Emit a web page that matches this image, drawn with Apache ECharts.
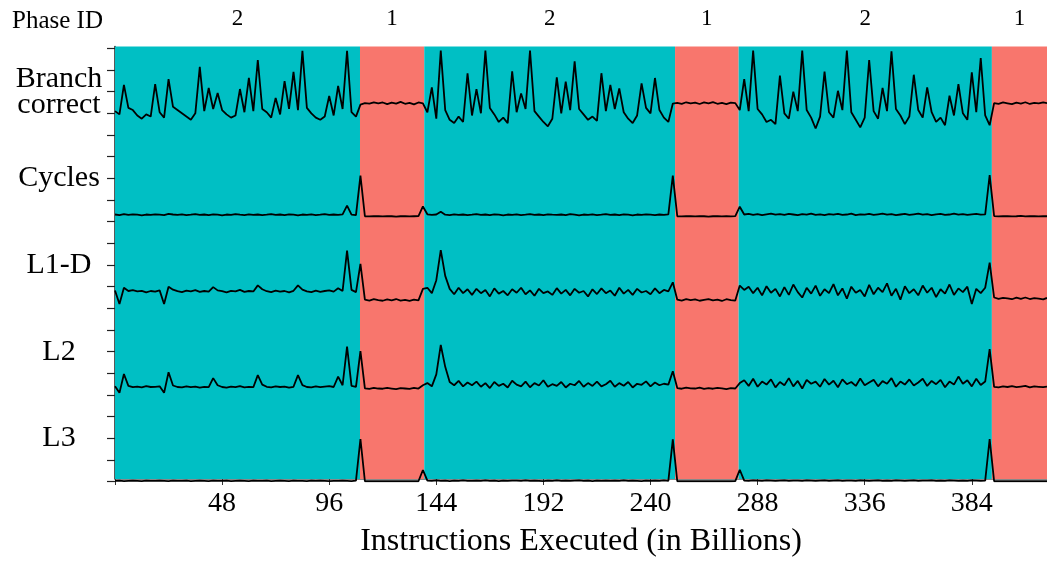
<!DOCTYPE html>
<html>
<head>
<meta charset="utf-8">
<script src="https://cdn.jsdelivr.net/npm/echarts@6/dist/echarts.min.js"></script>
<style>
html,body{margin:0;padding:0;background:#fff;}
#chart{width:1047px;height:563px;}
</style>
</head>
<body>
<div id="chart"></div>
<script>
// Sample positions (billions of instructions)
const instr = [
0,2,4,6,8,10,12,14,16,18,
20,22,24,26,28,30,32,34,36,38,
40,42,44,46,48,50,52,54,56,58,
60,62,64,66,68,70,72,74,76,78,
80,82,84,86,88,90,92,94,96,98,
100,102,104,106,108,110,112,114,116,118,
120,122,124,126,128,130,132,134,136,138,
140,142,144,146,148,150,152,154,156,158,
160,162,164,166,168,170,172,174,176,178,
180,182,184,186,188,190,192,194,196,198,
200,202,204,206,208,210,212,214,216,218,
220,222,224,226,228,230,232,234,236,238,
240,242,244,246,248,250,252,254,256,258,
260,262,264,266,268,270,272,274,276,278,
280,282,284,286,288,290,292,294,296,298,
300,302,304,306,308,310,312,314,316,318,
320,322,324,326,328,330,332,334,336,338,
340,342,344,346,348,350,352,354,356,358,
360,362,364,366,368,370,372,374,376,378,
380,382,384,386,388,390,392,394,396,398,
400,402,404,406,408,410,412,414,416,417.7
];

// Normalised metric values (each within its own 0..4 lane)
const branchCorrect = [
1.10,0.95,2.31,1.25,1.15,0.90,0.75,0.95,0.85,2.35,
1.05,0.80,2.58,1.30,1.15,1.00,0.85,0.70,1.00,3.14,
1.10,2.17,1.20,1.94,1.15,0.95,0.80,0.90,2.12,1.05,
2.63,1.10,3.46,1.20,1.05,0.80,1.71,0.95,2.49,1.20,
2.91,1.15,3.88,1.25,1.00,0.80,0.70,0.85,1.80,0.90,
2.26,1.20,3.88,1.05,0.85,1.40,1.47,1.45,1.50,1.46,
1.50,1.42,1.49,1.45,1.53,1.44,1.48,1.41,1.50,1.46,
1.05,2.20,0.75,3.89,1.15,0.70,0.55,0.85,0.60,2.85,
0.90,2.12,1.00,3.89,1.25,0.95,0.60,0.80,0.55,2.94,
1.05,1.92,1.20,3.89,1.10,0.85,0.60,0.40,0.75,2.66,
1.00,2.46,1.15,3.40,1.20,0.95,0.70,0.85,0.65,2.85,
1.10,2.31,1.20,2.15,1.05,0.75,0.55,0.90,2.38,1.25,
1.00,2.63,1.15,0.80,0.60,1.45,1.48,1.44,1.51,1.46,
1.49,1.43,1.50,1.46,1.52,1.44,1.48,1.42,1.49,1.47,
1.15,2.58,1.10,3.89,1.20,0.95,0.60,0.70,0.50,2.74,
1.00,0.75,2.00,1.10,3.89,1.15,0.80,0.30,0.85,2.92,
1.05,0.80,2.04,1.15,3.89,1.05,0.70,0.35,0.80,3.46,
1.10,0.75,2.17,1.10,3.86,1.20,0.90,0.50,0.85,2.78,
1.15,0.80,2.20,1.05,0.60,0.80,0.45,1.81,0.90,2.35,
1.00,0.70,2.89,1.05,3.55,0.90,0.45,1.47,1.44,1.50,
1.46,1.42,1.49,1.45,1.51,1.43,1.48,1.46,1.50,1.47
];
const cycles = [
0.33,0.30,0.35,0.31,0.34,0.32,0.29,0.33,0.31,0.34,
0.32,0.30,0.36,0.33,0.31,0.34,0.30,0.32,0.35,0.31,
0.33,0.30,0.34,0.32,0.29,0.33,0.31,0.35,0.32,0.30,
0.34,0.31,0.33,0.30,0.32,0.35,0.31,0.33,0.30,0.34,
0.32,0.29,0.33,0.31,0.34,0.30,0.32,0.35,0.31,0.33,
0.31,0.34,0.74,0.32,0.30,2.12,0.25,0.24,0.26,0.25,
0.24,0.26,0.25,0.23,0.25,0.26,0.24,0.25,0.26,0.70,
0.34,0.31,0.33,0.46,0.32,0.30,0.34,0.31,0.33,0.30,
0.32,0.35,0.31,0.33,0.30,0.34,0.32,0.29,0.33,0.31,
0.34,0.30,0.32,0.35,0.31,0.33,0.30,0.34,0.32,0.31,
0.33,0.30,0.35,0.32,0.29,0.33,0.31,0.34,0.30,0.32,
0.35,0.31,0.33,0.30,0.34,0.32,0.29,0.33,0.31,0.34,
0.32,0.30,0.33,0.31,0.34,2.12,0.25,0.24,0.26,0.25,
0.24,0.26,0.25,0.23,0.25,0.26,0.24,0.25,0.24,0.26,
0.69,0.33,0.36,0.31,0.35,0.30,0.34,0.37,0.32,0.35,
0.31,0.36,0.33,0.30,0.35,0.32,0.37,0.31,0.34,0.30,
0.35,0.32,0.36,0.31,0.33,0.37,0.30,0.34,0.32,0.36,
0.31,0.34,0.37,0.32,0.35,0.30,0.33,0.36,0.31,0.34,
0.37,0.32,0.35,0.30,0.34,0.36,0.31,0.33,0.37,0.32,
0.35,0.31,0.34,0.36,0.32,0.34,2.15,0.26,0.24,0.25,
0.26,0.24,0.25,0.27,0.24,0.26,0.25,0.24,0.26,0.25
];
const l1d = [
0.82,0.20,0.95,0.80,0.84,0.78,0.81,0.74,0.80,0.77,
0.83,0.20,1.00,0.86,0.79,0.75,0.82,0.78,0.84,0.76,
0.80,0.77,0.98,0.83,0.79,0.74,0.81,0.78,0.85,0.76,
0.80,0.78,1.06,0.88,0.79,0.75,0.82,0.77,0.80,0.74,
0.81,1.06,0.86,0.78,0.75,0.82,0.76,0.80,0.83,0.77,
0.93,0.80,2.66,0.85,0.75,2.05,0.40,0.36,0.42,0.38,
0.35,0.41,0.37,0.43,0.36,0.39,0.34,0.40,0.37,0.90,
0.95,0.70,1.30,2.69,1.50,0.90,0.65,0.95,0.70,0.88,
0.62,0.90,0.70,0.85,0.55,0.92,0.68,0.80,0.60,0.88,
0.72,0.95,0.65,0.83,0.58,0.90,0.70,0.78,0.62,0.93,
0.68,0.85,0.60,0.90,0.72,0.80,0.55,0.88,0.66,0.92,
0.70,0.82,0.58,0.95,0.68,0.85,0.62,0.90,0.73,0.80,
0.65,0.92,0.70,0.85,0.78,1.20,0.40,0.36,0.42,0.38,
0.41,0.35,0.39,0.43,0.37,0.40,0.34,0.42,0.38,0.36,
1.05,0.85,1.00,0.70,0.95,0.60,1.02,0.72,0.90,0.55,
0.98,0.62,1.10,0.75,0.50,0.95,0.68,1.05,0.58,0.88,
0.70,1.12,0.60,0.92,0.45,1.00,0.72,0.85,0.55,1.08,
0.65,0.95,0.75,1.15,0.58,0.90,0.40,1.02,0.70,0.88,
0.60,1.05,0.72,0.95,0.52,0.88,0.68,1.10,0.62,0.92,
0.75,1.00,0.20,0.90,0.70,0.95,2.11,0.50,0.44,0.48,
0.46,0.42,0.49,0.44,0.50,0.43,0.47,0.45,0.41,0.48
];
const l2 = [
0.40,0.10,0.97,0.42,0.36,0.39,0.35,0.41,0.37,0.38,
0.40,0.10,1.05,0.44,0.37,0.35,0.40,0.36,0.39,0.34,
0.38,0.36,0.78,0.45,0.37,0.34,0.39,0.36,0.41,0.35,
0.38,0.36,0.92,0.48,0.38,0.35,0.40,0.37,0.39,0.34,
0.38,0.92,0.46,0.37,0.35,0.40,0.36,0.39,0.41,0.37,
0.85,0.45,2.23,0.42,0.38,2.03,0.31,0.28,0.33,0.30,
0.29,0.33,0.30,0.27,0.32,0.30,0.28,0.33,0.30,0.45,
0.55,0.40,0.95,2.31,1.30,0.60,0.45,0.65,0.40,0.58,
0.45,0.62,0.38,0.55,0.32,0.60,0.42,0.52,0.35,0.66,
0.48,0.40,0.62,0.36,0.55,0.44,0.68,0.38,0.50,0.42,
0.60,0.35,0.52,0.45,0.65,0.38,0.55,0.42,0.62,0.40,
0.50,0.66,0.38,0.55,0.43,0.60,0.35,0.52,0.47,0.63,
0.40,0.58,0.45,0.52,0.48,1.10,0.32,0.29,0.34,0.31,
0.30,0.34,0.28,0.32,0.29,0.33,0.31,0.27,0.32,0.30,
0.55,0.68,0.42,0.75,0.38,0.62,0.48,0.72,0.35,0.60,
0.45,0.78,0.40,0.65,0.30,0.70,0.52,0.62,0.38,0.74,
0.48,0.66,0.36,0.72,0.50,0.60,0.42,0.76,0.45,0.58,
0.70,0.40,0.64,0.52,0.78,0.38,0.62,0.48,0.72,0.44,
0.58,0.75,0.42,0.65,0.50,0.70,0.36,0.62,0.48,0.85,
0.52,0.68,0.40,0.75,0.46,0.62,2.12,0.38,0.35,0.40,
0.37,0.41,0.36,0.39,0.42,0.35,0.40,0.38,0.36,0.39
];
const l3 = [
0.04,0.05,0.03,0.04,0.05,0.04,0.03,0.05,0.04,0.04,
0.05,0.04,0.03,0.05,0.04,0.04,0.05,0.03,0.04,0.05,
0.04,0.03,0.05,0.04,0.04,0.05,0.03,0.04,0.05,0.04,
0.03,0.05,0.04,0.04,0.05,0.03,0.04,0.05,0.04,0.03,
0.05,0.04,0.04,0.03,0.05,0.04,0.05,0.04,0.03,0.04,
0.04,0.05,0.04,0.03,0.05,1.97,0.02,0.02,0.03,0.02,
0.02,0.03,0.02,0.02,0.03,0.02,0.02,0.03,0.02,0.54,
0.05,0.04,0.06,0.04,0.05,0.03,0.05,0.04,0.06,0.04,
0.04,0.05,0.04,0.06,0.04,0.05,0.03,0.05,0.04,0.05,
0.05,0.04,0.06,0.04,0.05,0.04,0.03,0.05,0.04,0.06,
0.04,0.05,0.04,0.05,0.06,0.04,0.05,0.03,0.05,0.04,
0.05,0.04,0.05,0.04,0.06,0.04,0.05,0.04,0.03,0.05,
0.04,0.05,0.04,0.06,0.04,1.95,0.02,0.03,0.02,0.02,
0.03,0.02,0.02,0.03,0.02,0.02,0.03,0.02,0.02,0.03,
0.55,0.05,0.04,0.06,0.05,0.04,0.06,0.05,0.04,0.05,
0.06,0.04,0.05,0.05,0.04,0.06,0.05,0.04,0.05,0.06,
0.04,0.05,0.06,0.04,0.05,0.05,0.04,0.06,0.05,0.04,
0.05,0.06,0.04,0.05,0.04,0.06,0.05,0.04,0.05,0.06,
0.04,0.05,0.05,0.06,0.04,0.05,0.04,0.06,0.05,0.04,
0.05,0.04,0.06,0.05,0.04,0.05,1.97,0.02,0.03,0.02,
0.02,0.03,0.02,0.02,0.03,0.02,0.02,0.03,0.02,0.02
];

// Phases
const phaseStart = [0, 109.8, 138.6, 251, 279.5, 393];
const phaseEnd   = [109.8, 138.6, 251, 279.5, 393, 417.7];
const phaseId    = [2, 1, 2, 1, 2, 1];

// Lanes (top to bottom) and tick labels
const metricNames = ['Branch\ncorrect', 'Cycles', 'L1-D', 'L2', 'L3'];
const metricSeries = [branchCorrect, cycles, l1d, l2, l3];
const xTicks = [48, 96, 144, 192, 240, 288, 336, 384];

const X_MAX = 417.7;
const LANE = 4;
const FONT = "'Liberation Serif', 'DejaVu Serif', serif";
const PHASE_COLOR = {1: '#F8766D', 2: '#00BFC4'};

const laneLabel = {};
metricNames.forEach((n, i) => { laneLabel[(metricNames.length - 1 - i) * LANE + LANE / 2] = n; });

const lineSeries = metricSeries.map((vals, i) => {
  const base = (metricNames.length - 1 - i) * LANE;
  return {
    name: metricNames[i],
    type: 'line',
    xAxisIndex: 1, yAxisIndex: 1,
    data: instr.map((x, k) => [x, base + vals[k]]),
    showSymbol: false,
    symbol: 'none',
    lineStyle: { color: '#000', width: 1.8 },
    z: 3,
    animation: false
  };
});

const chart = echarts.init(document.getElementById('chart'), null, { renderer: 'canvas' });
chart.setOption({
  animation: false,
  title: {
    text: 'Phase ID', left: 7, top: 4,
    textStyle: { fontFamily: FONT, fontSize: 25, fontWeight: 'normal', color: '#000' }
  },
  grid: [
    { left: 115, right: 0, top: 46.5, bottom: 78 },
    { left: 115, right: 0, top: 48.3, bottom: 81.3 }
  ],
  xAxis: [
    {
      gridIndex: 0, type: 'value', min: 0, max: X_MAX, interval: 48,
      name: 'Instructions Executed (in Billions)', nameLocation: 'middle', nameGap: 47,
      nameTextStyle: { fontFamily: FONT, fontSize: 32, color: '#000' },
      axisLine: { show: true, lineStyle: { color: '#888', width: 1 } },
      axisTick: { show: true, length: 6, lineStyle: { color: '#333', width: 1 } },
      axisLabel: {
        fontFamily: FONT, fontSize: 28, color: '#000', margin: 11, showMaxLabel: false,
        formatter: v => (xTicks.indexOf(v) >= 0 ? String(v) : '')
      },
      splitLine: { show: false }
    },
    { gridIndex: 1, type: 'value', min: 0, max: X_MAX, show: false }
  ],
  yAxis: [
    {
      gridIndex: 0, type: 'value', min: 0, max: 1,
      axisLine: { show: true, lineStyle: { color: '#222', width: 1.5 } },
      axisTick: { show: false }, axisLabel: { show: false }, splitLine: { show: false }
    },
    {
      gridIndex: 1, type: 'value', min: 0, max: metricNames.length * LANE, interval: 1,
      axisLine: { show: false },
      axisTick: { show: true, length: 8, lineStyle: { color: '#222', width: 1.2 } },
      axisLabel: {
        fontFamily: FONT, fontSize: 30, color: '#000', align: 'center', margin: 56,
        lineHeight: 26,
        formatter: v => laneLabel[v] || ''
      },
      splitLine: { show: false }
    }
  ],
  series: [
    {
      type: 'custom',
      xAxisIndex: 0, yAxisIndex: 0,
      z: 1,
      clip: false,
      data: phaseStart.map((s, i) => [s, phaseEnd[i], phaseId[i]]),
      renderItem: function (params, api) {
        const x0 = api.value(0), x1 = api.value(1), id = api.value(2);
        const tl = api.coord([x0, 1]);
        const br = api.coord([x1, 0]);
        return {
          type: 'group',
          children: [
            { type: 'rect', shape: { x: tl[0], y: tl[1], width: br[0] - tl[0], height: br[1] - tl[1] },
              style: { fill: PHASE_COLOR[id] } },
            { type: 'text', style: { text: String(id), x: (tl[0] + br[0]) / 2, y: tl[1] - 28,
              align: 'center', verticalAlign: 'middle', font: "23px 'Liberation Serif'", fill: '#000' } }
          ]
        };
      }
    }
  ].concat(lineSeries)
});
</script>
</body>
</html>
